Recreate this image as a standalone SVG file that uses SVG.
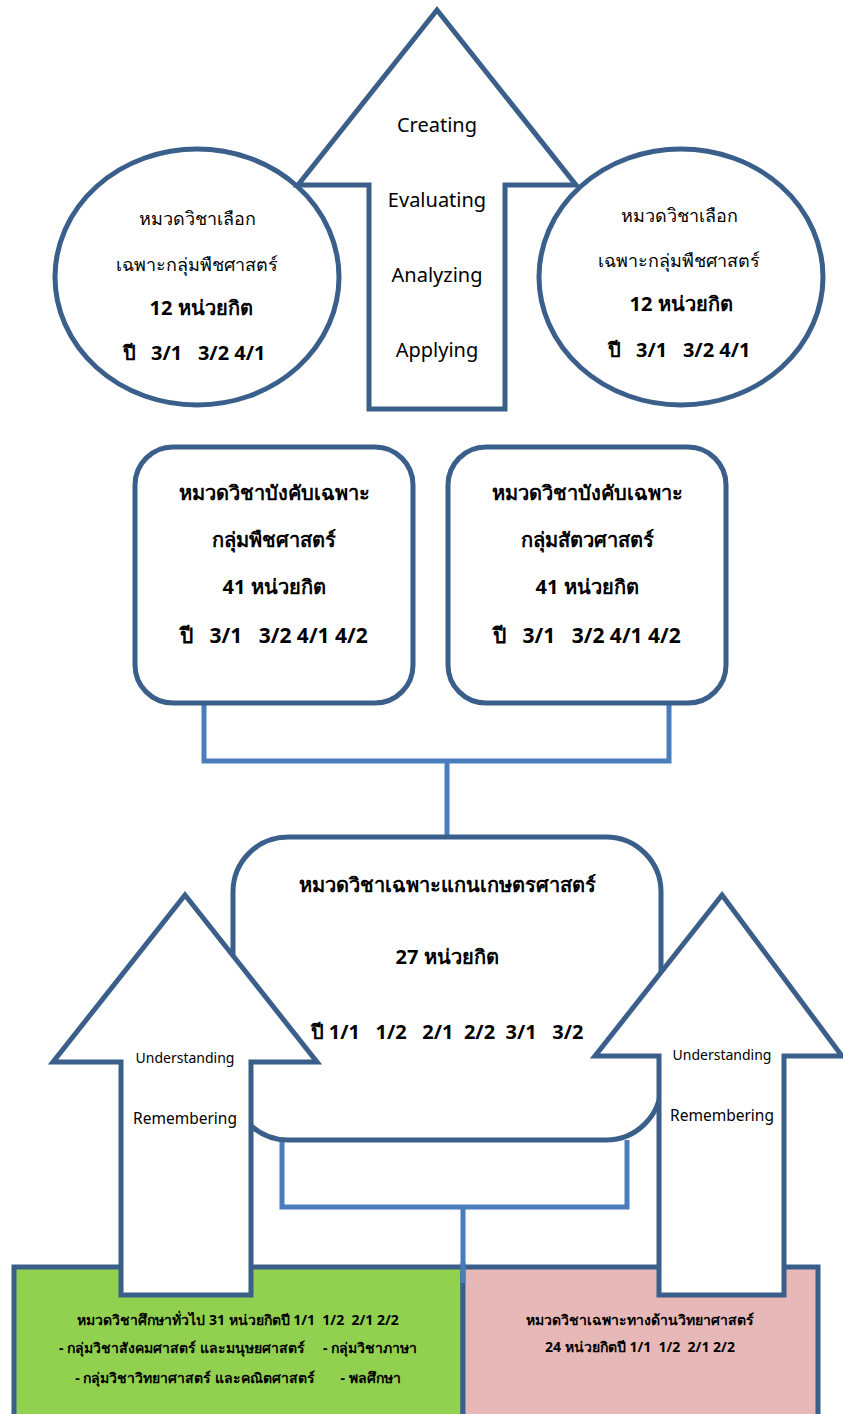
<svg xmlns="http://www.w3.org/2000/svg" width="843" height="1414" viewBox="0 0 843 1414">
<style>
.shape{fill:#fff;stroke:#3A5F8B;stroke-width:5}
.conn{fill:none;stroke:#4A7EBB;stroke-width:5}
text{font-family:"Noto Sans","DejaVu Sans",sans-serif;fill:#000;text-anchor:middle;white-space:pre}
.t20{font-size:20px}
.t18{font-size:18px}
.b{font-weight:bold}
.t13{font-size:14px}
.t14{font-size:15.5px}
.s13{font-size:14px;font-weight:bold}
</style>
<rect width="843" height="1414" fill="#fff"/>
<g id="circle-left">
<ellipse class="shape" cx="197" cy="277" rx="142" ry="128"/>
<text class="t18" x="197" y="225">หมวดวิชาเลือก</text>
<text class="t18" x="197" y="271">เฉพาะกลุ่มพืชศาสตร์</text>
<text class="t20 b" x="201" y="315">12 หน่วยกิต</text>
<text class="t20 b" x="194" y="360">ปี   3/1   3/2 4/1</text>
</g>
<g id="circle-right">
<ellipse class="shape" cx="681" cy="277" rx="142" ry="128"/>
<text class="t18" x="679" y="222">หมวดวิชาเลือก</text>
<text class="t18" x="679" y="267">เฉพาะกลุ่มพืชศาสตร์</text>
<text class="t20 b" x="681" y="311">12 หน่วยกิต</text>
<text class="t20 b" x="679" y="357">ปี   3/1   3/2 4/1</text>
</g>
<g id="arrow-top">
<polygon class="shape" points="437,10 576,185 505,185 505,409 369,409 369,185 298,185"/>
<text class="t20" x="437" y="132">Creating</text>
<text class="t20" x="437" y="207">Evaluating</text>
<text class="t20" x="437" y="282">Analyzing</text>
<text class="t20" x="437" y="357">Applying</text>
</g>
<g id="connectors">
<polyline class="conn" points="204,703 204,761 669,761 669,703"/>
<line class="conn" x1="447" y1="761" x2="447" y2="836"/>
<polyline class="conn" points="282,1140 282,1207 627,1207 627,1140"/>
<line class="conn" x1="463" y1="1207" x2="463" y2="1283"/>
</g>
<g id="box-plant">
<rect class="shape" x="135" y="447" width="278" height="256" rx="38"/>
<text class="t20 b" x="274" y="500">หมวดวิชาบังคับเฉพาะ</text>
<text class="t20 b" x="274" y="547">กลุ่มพืชศาสตร์</text>
<text class="t20 b" x="274" y="594">41 หน่วยกิต</text>
<text class="b" style="font-size:21px" x="274" y="643">ปี   3/1   3/2 4/1 4/2</text>
</g>
<g id="box-animal">
<rect class="shape" x="448" y="447" width="278" height="256" rx="38"/>
<text class="t20 b" x="587" y="500">หมวดวิชาบังคับเฉพาะ</text>
<text class="t20 b" x="587" y="547">กลุ่มสัตวศาสตร์</text>
<text class="t20 b" x="587" y="594">41 หน่วยกิต</text>
<text class="b" style="font-size:21px" x="587" y="643">ปี   3/1   3/2 4/1 4/2</text>
</g>
<g id="box-core">
<rect class="shape" x="233" y="837" width="428" height="303" rx="55"/>
<text class="t20 b" x="447" y="892">หมวดวิชาเฉพาะแกนเกษตรศาสตร์</text>
<text class="t20 b" x="447" y="964">27 หน่วยกิต</text>
<text class="t20 b" x="447" y="1039">ปี 1/1   1/2   2/1  2/2  3/1   3/2</text>
</g>
<g id="box-general">
<rect x="14" y="1267" width="449" height="170" fill="#92D050" stroke="#3A5F8B" stroke-width="5"/>
<text class="s13" x="238" y="1325">หมวดวิชาศึกษาทั่วไป 31 หน่วยกิตปี 1/1  1/2  2/1 2/2</text>
<text class="s13" x="238" y="1353">- กลุ่มวิชาสังคมศาสตร์ และมนุษยศาสตร์     - กลุ่มวิชาภาษา</text>
<text class="s13" x="238" y="1383">- กลุ่มวิชาวิทยาศาสตร์ และคณิตศาสตร์       - พลศึกษา</text>
</g>
<g id="box-science">
<rect x="463" y="1267" width="355" height="170" fill="#E6B8B7" stroke="#3A5F8B" stroke-width="5"/>
<text class="s13" x="640" y="1325">หมวดวิชาเฉพาะทางด้านวิทยาศาสตร์</text>
<text class="s13" x="640" y="1352">24 หน่วยกิตปี 1/1  1/2  2/1 2/2</text>
</g>
<line class="conn" x1="463" y1="1262" x2="463" y2="1283"/>
<g id="arrow-left">
<polygon class="shape" points="185,895 317,1062 251,1062 251,1295 121,1295 121,1062 53,1062"/>
<text class="t13" x="185" y="1063">Understanding</text>
<text class="t14" x="185" y="1124">Remembering</text>
</g>
<g id="arrow-right">
<polygon class="shape" points="722,895 842,1056 784,1056 784,1295 659,1295 659,1056 595,1056"/>
<text class="t13" x="722" y="1060">Understanding</text>
<text class="t14" x="722" y="1121">Remembering</text>
</g>
</svg>
